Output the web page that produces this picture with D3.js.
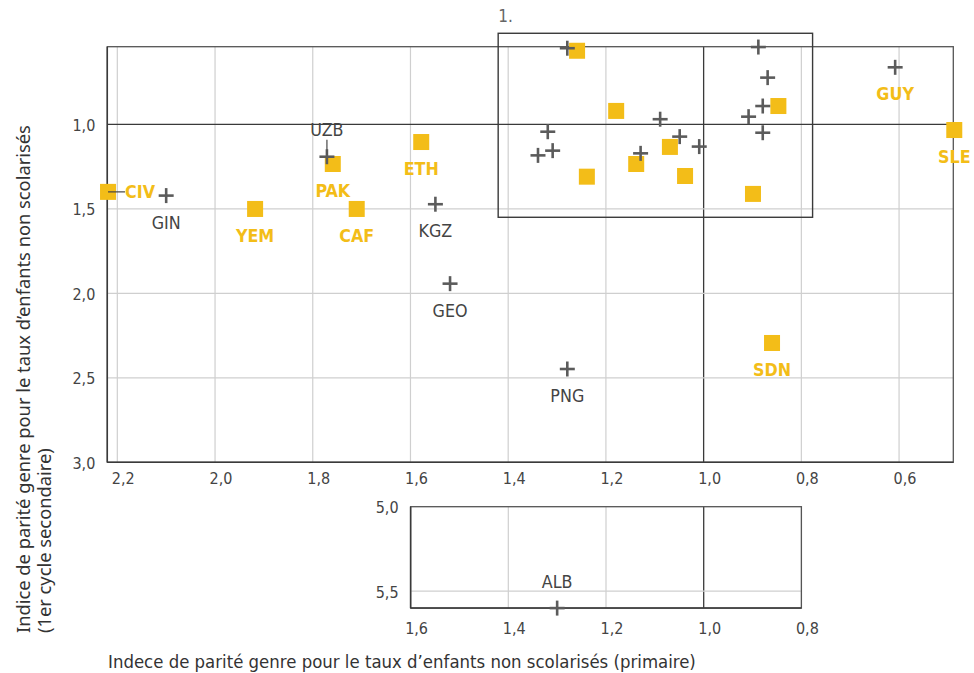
<!DOCTYPE html>
<html>
<head>
<meta charset="utf-8">
<script src="https://cdn.jsdelivr.net/npm/d3@7"></script>
<style>
  body { margin: 0; background: #fff; }
  svg { display: block; }
  .num { font-family: "DejaVu Sans Condensed", "DejaVu Sans", sans-serif; font-stretch: condensed; }
  .tick { font-family: "Liberation Sans Narrow", "DejaVu Sans Condensed", "DejaVu Sans", sans-serif; font-stretch: condensed; }
</style>
</head>
<body>
<svg id="chart" width="974" height="673"></svg>
<script>
// ---------- data ----------
const codes  = ["CIV","GIN","YEM","UZB","PAK","CAF","ETH","KGZ","GEO","PNG","SDN","GUY","SLE",
                "","","","","","","","","","","","","",
                "","","","","","","",""];
const xVals  = [2.219,2.100,1.918,1.771,1.759,1.710,1.578,1.549,1.519,1.279,0.860,0.608,0.487,
                1.279,0.888,0.869,0.879,0.908,0.879,1.089,1.049,1.009,1.129,1.319,1.309,1.339,
                1.259,1.179,1.069,1.138,1.239,1.038,0.899,0.847];
const yVals  = [1.400,1.422,1.501,1.192,1.235,1.501,1.105,1.473,1.943,2.448,2.294,0.663,1.034,
                0.550,0.543,0.724,0.892,0.955,1.050,0.970,1.073,1.132,1.172,1.044,1.156,1.184,
                0.565,0.921,1.134,1.235,1.310,1.306,1.412,0.892];
const kinds  = ["sq","cr","sq","cr","sq","sq","sq","cr","cr","cr","sq","cr","sq",
                "cr","cr","cr","cr","cr","cr","cr","cr","cr","cr","cr","cr","cr",
                "sq","sq","sq","sq","sq","sq","sq","sq"];
const labelHi = ["CIV","YEM","PAK","CAF","ETH","SDN","GUY","SLE"]; // highlighted (yellow) labels
const labelPos = {CIV:"right", UZB:"above"};

const xTicks = [2.2,2.0,1.8,1.6,1.4,1.2,1.0,0.8,0.6];
const yTicks = [1.0,1.5,2.0,2.5,3.0];

// inset (outlier)
const insetCodes = ["ALB"];
const insetX = [1.30];
const insetY = [5.60];
const insetXTicks = [1.6,1.4,1.2,1.0,0.8];
const insetYTicks = [5.0,5.5];

const boxLabel = "1.";
const boxX = [1.4205, 0.7770];
const boxY = [0.4616, 1.5503];

const xTitle = "Indece de parité genre pour le taux d’enfants non scolarisés (primaire)";
const yTitle = ["Indice de parité genre pour le taux d’enfants non scolarisés", "(1er cycle secondaire)"];

// ---------- style ----------
const YELLOW = "#F3BD18", CROSS = "#5b5b5b", TXT = "#444", GRID = "#cfcfcf", DARK = "#3a3a3a";
const fmt = d => d3.format(".1f")(d).replace(".", ",");

const svg = d3.select("#chart");

function sizeFor(str, targetW, cls, family, weight) {
  const t = svg.append("text").attr("font-size", 20).text(str);
  if (cls) t.attr("class", cls);
  if (family) t.attr("font-family", family);
  if (weight) t.attr("font-weight", weight);
  const w = t.node().getComputedTextLength();
  t.remove();
  return 20 * targetW / w;
}
const FS_TICK = 16;
const FS_LAB = sizeFor("GIN", 29, "num");
const FS_XT = sizeFor(xTitle, 588, "num");
const FS_YT = sizeFor(yTitle[0], 508, null, "'Noto Sans', 'Open Sans', sans-serif");

// ---------- scales ----------
const x = d3.scaleLinear().domain([2.2205, 0.489]).range([107.3, 953.3]);
const y = d3.scaleLinear().domain([0.541, 3.0]).range([46.7, 462.3]);
const xi = d3.scaleLinear().domain([1.6, 0.8]).range([410.6, 801.4]);
const yi = d3.scaleLinear().domain([5.0, 5.6]).range([506.7, 608.1]);

function panel(xs, ys, xt, yt, labelDy) {
  const g = svg.append("g");
  const [x0, x1] = xs.range(), [y0, y1] = ys.range();
  g.selectAll(".vx").data(xt).join("line")
    .attr("x1", d => xs(d)).attr("x2", d => xs(d)).attr("y1", y0).attr("y2", y1)
    .attr("stroke", d => d === 1.0 ? DARK : GRID).attr("stroke-width", d => d === 1.0 ? 1.3 : 1.2);
  g.selectAll(".hy").data(yt.filter(d => ys(d) > y0 + 1 && ys(d) < y1 - 1)).join("line")
    .attr("x1", x0).attr("x2", x1).attr("y1", d => ys(d)).attr("y2", d => ys(d))
    .attr("stroke", d => d === 1.0 ? DARK : GRID).attr("stroke-width", d => d === 1.0 ? 1.3 : 1.2);
  g.append("rect").attr("x", x0).attr("y", y0).attr("width", x1 - x0).attr("height", y1 - y0)
    .attr("fill", "none").attr("stroke", "#555").attr("stroke-width", 1.3);
  g.append("line").attr("x1", x0).attr("x2", x0).attr("y1", y0).attr("y2", y1).attr("stroke", DARK).attr("stroke-width", 1.5);
  g.append("line").attr("x1", x0).attr("x2", x1).attr("y1", y1).attr("y2", y1).attr("stroke", DARK).attr("stroke-width", 1.5);
  g.selectAll(".xl").data(xt).join("text").attr("class", "tick")
    .attr("x", d => xs(d) + 6).attr("y", y1 + labelDy).attr("text-anchor", "middle")
    .attr("dominant-baseline", "central").attr("font-size", FS_TICK).attr("fill", TXT).text(fmt);
  g.selectAll(".yl").data(yt).join("text").attr("class", "tick")
    .attr("x", x0 - 12).attr("y", d => ys(d) + 1).attr("text-anchor", "end")
    .attr("dominant-baseline", "central").attr("font-size", FS_TICK).attr("fill", TXT).text(fmt);
  return g;
}

panel(x, y, xTicks, yTicks, 16);
panel(xi, yi, insetXTicks, insetYTicks, 20);

svg.append("rect").attr("x", x(boxX[0])).attr("y", y(boxY[0]))
  .attr("width", x(boxX[1]) - x(boxX[0])).attr("height", y(boxY[1]) - y(boxY[0]))
  .attr("fill", "none").attr("stroke", DARK).attr("stroke-width", 1.4);
svg.append("text").attr("class", "tick").attr("x", x(boxX[0])).attr("y", 16)
  .attr("dominant-baseline", "central").attr("font-size", 17).attr("fill", "#666").text(boxLabel);

// ---------- points ----------
const pts = codes.map((c, i) => ({c, x: xVals[i], y: yVals[i], k: kinds[i]}));
const S = 16, A = 7.5;

function drawPoint(g, d, xs, ys) {
  const px = xs(d.x), py = ys(d.y);
  if (d.k === "sq") {
    g.append("rect").attr("x", px - S/2).attr("y", py - S/2).attr("width", S).attr("height", S).attr("fill", YELLOW);
  } else {
    g.append("line").attr("x1", px - A).attr("x2", px + A).attr("y1", py).attr("y2", py).attr("stroke", CROSS).attr("stroke-width", 2.6);
    g.append("line").attr("x1", px).attr("x2", px).attr("y1", py - A).attr("y2", py + A).attr("stroke", CROSS).attr("stroke-width", 2.6);
  }
}
function drawLabel(g, d, xs, ys) {
  if (!d.c) return;
  const px = xs(d.x), py = ys(d.y);
  const hi = labelHi.includes(d.c);
  const pos = labelPos[d.c] || "below";
  const t = g.append("text").attr("class", "num").attr("font-size", FS_LAB)
    .attr("dominant-baseline", "central")
    .attr("fill", hi ? YELLOW : TXT).attr("font-weight", hi ? "bold" : "normal").text(d.c);
  if (pos === "below") t.attr("x", px).attr("y", py + 27).attr("text-anchor", "middle");
  if (pos === "above") {
    t.attr("x", px).attr("y", py - 27).attr("text-anchor", "middle");
    g.append("line").attr("x1", px).attr("x2", px).attr("y1", py - 17).attr("y2", py - 2).attr("stroke", "#555").attr("stroke-width", 1.3);
  }
  if (pos === "right") {
    g.append("line").attr("x1", px).attr("x2", px + 17).attr("y1", py).attr("y2", py).attr("stroke", "#444").attr("stroke-width", 1.2);
    t.attr("x", px + 17).attr("y", py).attr("text-anchor", "start");
  }
}
const gp = svg.append("g");
pts.filter(d => d.k === "sq").forEach(d => drawPoint(gp, d, x, y));
pts.filter(d => d.k === "cr").forEach(d => drawPoint(gp, d, x, y));
pts.forEach(d => drawLabel(gp, d, x, y));

const ip = insetCodes.map((c, i) => ({c, x: insetX[i], y: insetY[i], k: "cr"}));
ip.forEach(d => {
  drawPoint(gp, d, xi, yi);
  gp.append("text").attr("class", "num").attr("x", xi(d.x)).attr("y", yi(d.y) - 26)
    .attr("text-anchor", "middle").attr("dominant-baseline", "central")
    .attr("font-size", FS_LAB).attr("fill", TXT).text(d.c);
});

// ---------- axis titles ----------
svg.append("text").attr("class", "num").attr("x", 108).attr("y", 661)
  .attr("dominant-baseline", "central").attr("font-size", FS_XT).attr("fill", "#333").text(xTitle);
yTitle.forEach((t, i) => {
  svg.append("text").attr("transform", `translate(${22 + i * 21},633) rotate(-90)`)
    .attr("dominant-baseline", "central").attr("font-family", "'Noto Sans', 'Open Sans', sans-serif")
    .attr("font-size", FS_YT).attr("fill", "#333").text(t);
});
</script>
</body>
</html>
